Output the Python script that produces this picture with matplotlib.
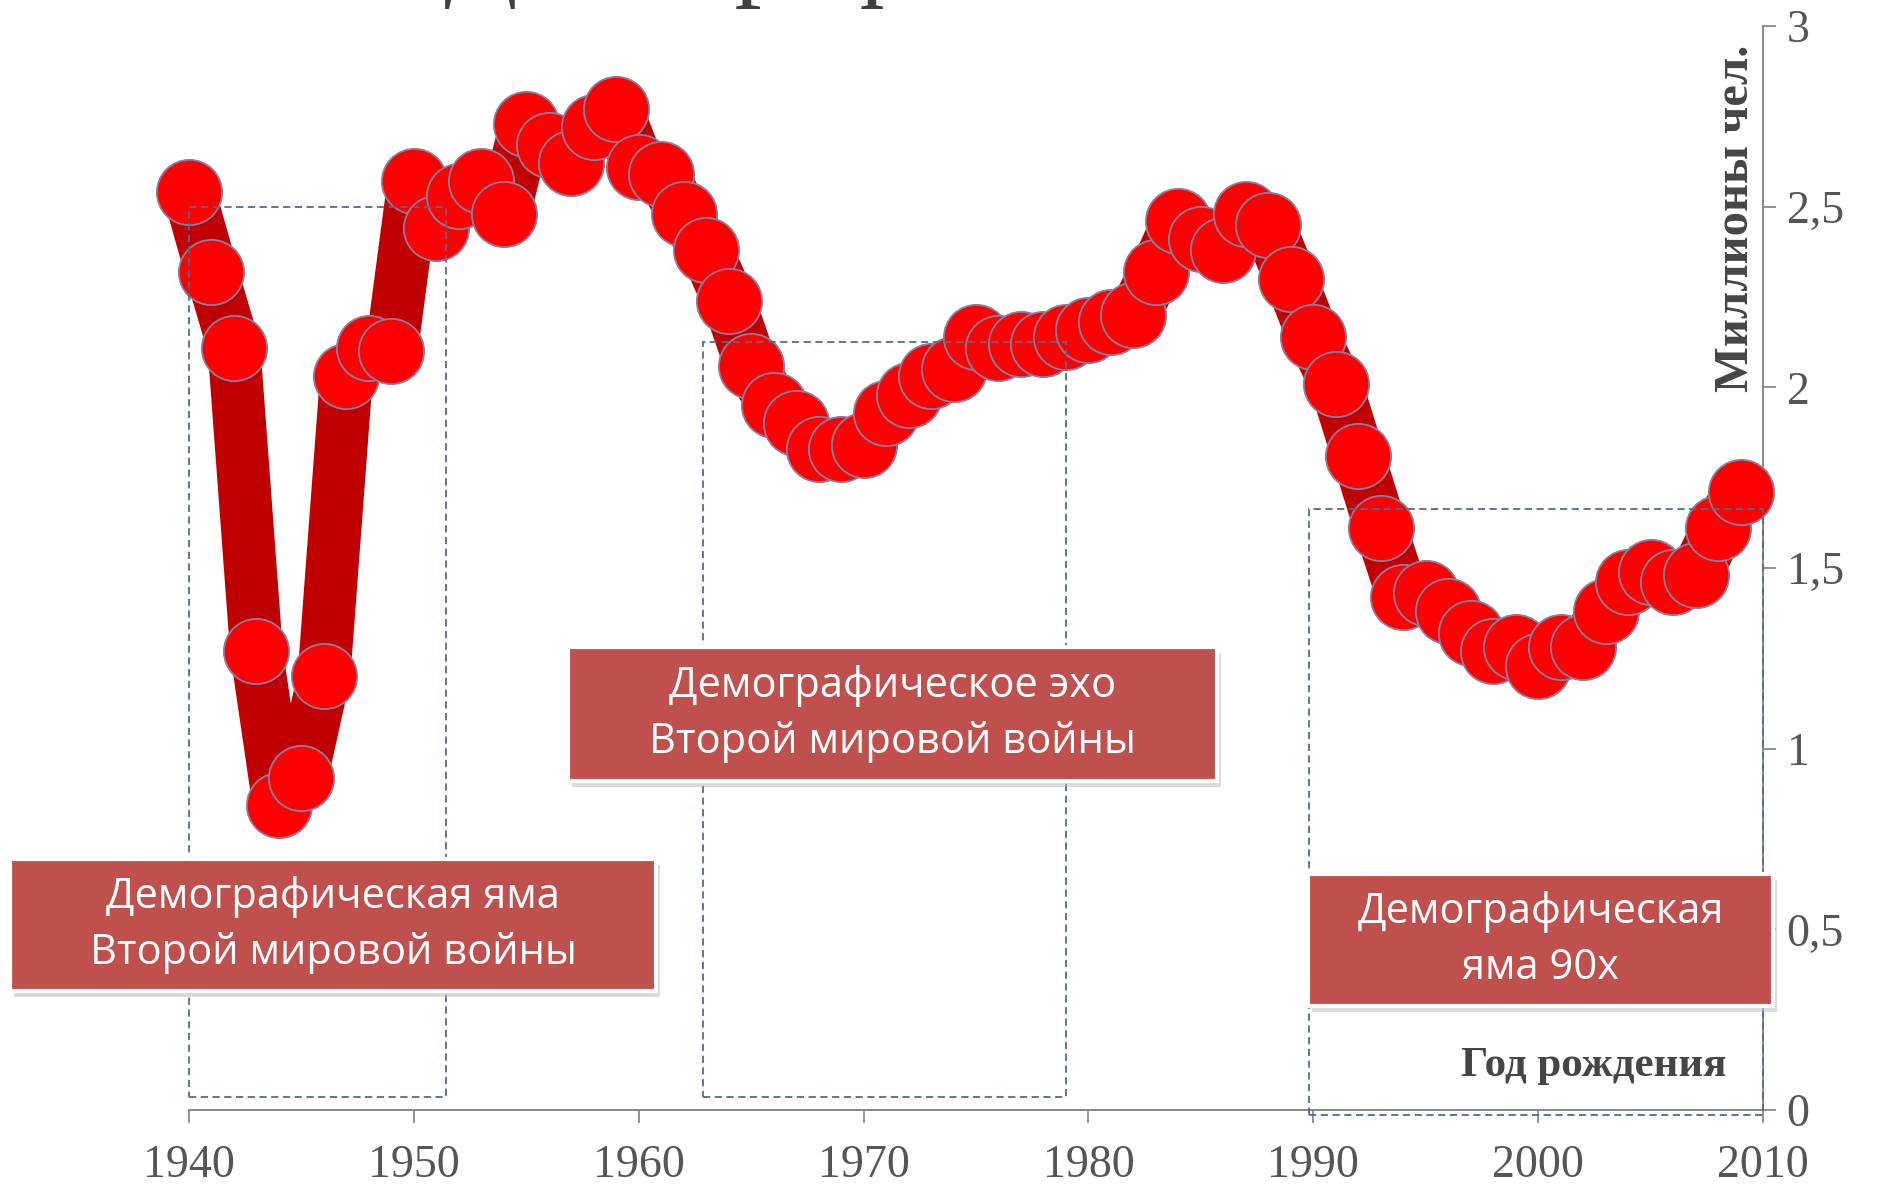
import matplotlib
matplotlib.use("Agg")
import matplotlib.pyplot as plt
from matplotlib.patches import Rectangle

years = list(range(1940, 2010))
births = [2.54, 2.32, 2.11, 1.27, 0.845, 0.92, 1.20, 2.03, 2.11, 2.10,
          2.57, 2.44, 2.53, 2.57, 2.48, 2.73, 2.67, 2.62, 2.72, 2.77,
          2.61, 2.59, 2.48, 2.38, 2.24, 2.06, 1.95, 1.90, 1.83, 1.83,
          1.84, 1.93, 1.98, 2.03, 2.05, 2.14, 2.11, 2.12, 2.12, 2.14,
          2.16, 2.18, 2.20, 2.32, 2.46, 2.41, 2.38, 2.48, 2.45, 2.30,
          2.14, 2.01, 1.81, 1.61, 1.42, 1.43, 1.38, 1.32, 1.27, 1.28,
          1.23, 1.28, 1.28, 1.38, 1.46, 1.49, 1.46, 1.48, 1.61, 1.71]

x_ticks = [1940, 1950, 1960, 1970, 1980, 1990, 2000, 2010]
y_ticks = [0, 0.5, 1, 1.5, 2, 2.5, 3]
y_tick_labels = ["0", "0,5", "1", "1,5", "2", "2,5", "3"]

title = "Демографические ямы"
y_label = "Миллионы чел."
x_label = "Год рождения"
box_texts = ["Демографическая яма\nВторой мировой войны",
             "Демографическое эхо\nВторой мировой войны",
             "Демографическая\nяма 90х"]

W, H = 1878, 1192
fig = plt.figure(figsize=(W / 100, H / 100), dpi=100)
fig.patch.set_facecolor("white")

def fx(px):
    return px / W

def fy(py):
    return 1 - py / H

ax = fig.add_axes([fx(189), fy(1110), fx(1763) - fx(189), fy(26) - fy(1110)])
ax.set_xlim(1940, 2010)
ax.set_ylim(0, 3)
ax.patch.set_alpha(0)

# thick line + markers
ax.plot(years, births, color="#C00000", lw=38, solid_joinstyle="round",
        solid_capstyle="butt", zorder=2, clip_on=False)
ax.plot(years, births, linestyle="none", marker="o", ms=47,
        markerfacecolor="#FF0000", markeredgecolor="#8A7FA0", markeredgewidth=1.3,
        zorder=3, clip_on=False)

# dashed rectangles
dash_col = "#4A6C9B"
rects = [(1940, 0.036, 1951.45, 2.50),
         (1962.85, 0.036, 1979.0, 2.125),
         (1989.8, -0.015, 2010, 1.664)]
for x0, y0, x1, y1 in rects:
    ax.add_patch(Rectangle((x0, y0), x1 - x0, y1 - y0, fill=False,
                           edgecolor=dash_col, lw=1.3, linestyle=(0, (4, 2.5)),
                           zorder=4, clip_on=False))

# spines & ticks
for s in ["left", "top"]:
    ax.spines[s].set_visible(False)
for s in ["right", "bottom"]:
    ax.spines[s].set_color("#808080")
    ax.spines[s].set_linewidth(1.3)
ax.yaxis.tick_right()
ax.set_xticks(x_ticks)
ax.set_xticklabels([str(v) for v in x_ticks])
ax.set_yticks(y_ticks)
ax.set_yticklabels(y_tick_labels)
ax.tick_params(axis="both", direction="out", length=9, width=1.2, color="#808080",
               labelcolor="#555555", labelsize=33)
ax.tick_params(axis="x", pad=16)
ax.tick_params(axis="y", pad=8)
for lab in ax.get_xticklabels() + ax.get_yticklabels():
    lab.set_fontfamily("Liberation Serif")

# axis titles
fig.text(fx(1736), fy(218), y_label, rotation=90, ha="center", va="center",
         fontsize=35, fontweight="bold", family="Liberation Serif", color="#454545")
fig.text(fx(1594), fy(1066), x_label, ha="center", va="center",
         fontsize=31, fontweight="bold", family="Liberation Serif", color="#454545")

# cut-off title
fig.text(fx(970), fy(-14), title, ha="center", va="baseline",
         fontsize=78, family="Liberation Serif", color="#404040")

# red label boxes
boxes = [(10, 859, 656, 991), (568, 647, 1217, 781), (1308, 874, 1773, 1006)]
for (x0, y0, x1, y1), txt in zip(boxes, box_texts):
    fig.patches.append(Rectangle((fx(x0 + 4), fy(y1 + 6)), fx(x1 - x0), fy(y0) - fy(y1),
                                 transform=fig.transFigure, facecolor="#B8B8B8",
                                 edgecolor="none", alpha=0.5, zorder=9))
    fig.patches.append(Rectangle((fx(x0), fy(y1)), fx(x1 - x0), fy(y0) - fy(y1),
                                 transform=fig.transFigure, facecolor="#C0504D",
                                 edgecolor="white", lw=3, zorder=10))
    fig.text(fx((x0 + x1) / 2), fy((y0 + y1) / 2), txt, ha="center", va="center",
             fontsize=30, family="Open Sans", color="white", linespacing=1.42,
             zorder=11)

fig.savefig("out.png", dpi=100)
